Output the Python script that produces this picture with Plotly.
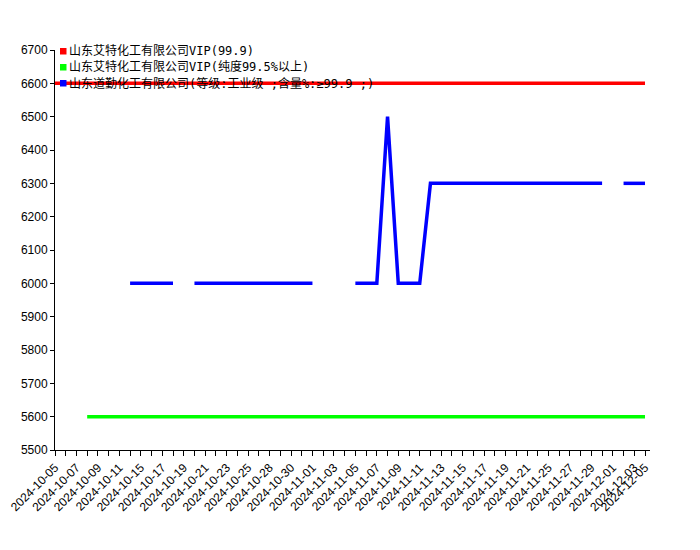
import plotly.graph_objects as go

dates = [
    "2024-10-05", "2024-10-06", "2024-10-07", "2024-10-08", "2024-10-09", "2024-10-10",
    "2024-10-11", "2024-10-14", "2024-10-15", "2024-10-16", "2024-10-17", "2024-10-18",
    "2024-10-19", "2024-10-20", "2024-10-21", "2024-10-22", "2024-10-23", "2024-10-24",
    "2024-10-25", "2024-10-27", "2024-10-28", "2024-10-29", "2024-10-30", "2024-10-31",
    "2024-11-01", "2024-11-02", "2024-11-03", "2024-11-04", "2024-11-05", "2024-11-06",
    "2024-11-07", "2024-11-08", "2024-11-09", "2024-11-10", "2024-11-11", "2024-11-12",
    "2024-11-13", "2024-11-14", "2024-11-15", "2024-11-16", "2024-11-17", "2024-11-18",
    "2024-11-19", "2024-11-20", "2024-11-21", "2024-11-22", "2024-11-25", "2024-11-26",
    "2024-11-27", "2024-11-28", "2024-11-29", "2024-11-30", "2024-12-01", "2024-12-02",
    "2024-12-03", "2024-12-05",
]

tick_labels = [
    "2024-10-05", "", "2024-10-07", "", "2024-10-09", "",
    "2024-10-11", "", "2024-10-15", "", "2024-10-17", "",
    "2024-10-19", "", "2024-10-21", "", "2024-10-23", "",
    "2024-10-25", "", "2024-10-28", "", "2024-10-30", "",
    "2024-11-01", "", "2024-11-03", "", "2024-11-05", "",
    "2024-11-07", "", "2024-11-09", "", "2024-11-11", "",
    "2024-11-13", "", "2024-11-15", "", "2024-11-17", "",
    "2024-11-19", "", "2024-11-21", "", "2024-11-25", "",
    "2024-11-27", "", "2024-11-29", "", "2024-12-01", "",
    "2024-12-03", "2024-12-05",
]

series_names = [
    "山东艾特化工有限公司VIP(99.9)",
    "山东艾特化工有限公司VIP(纯度99.5%以上)",
    "山东道勤化工有限公司(等级:工业级 ;含量%:≥99.9 ;)",
]
series_colors = ["#ff0000", "#00ff00", "#0000ff"]

vip_999 = [
    6600, 6600, 6600, 6600, 6600, 6600, 6600, 6600, 6600, 6600, 6600, 6600,
    6600, 6600, 6600, 6600, 6600, 6600, 6600, 6600, 6600, 6600, 6600, 6600,
    6600, 6600, 6600, 6600, 6600, 6600, 6600, 6600, 6600, 6600, 6600, 6600,
    6600, 6600, 6600, 6600, 6600, 6600, 6600, 6600, 6600, 6600, 6600, 6600,
    6600, 6600, 6600, 6600, 6600, 6600, 6600, 6600,
]

vip_995 = [
    None, None, None, 5600, 5600, 5600, 5600, 5600, 5600, 5600, 5600, 5600,
    5600, 5600, 5600, 5600, 5600, 5600, 5600, 5600, 5600, 5600, 5600, 5600,
    5600, 5600, 5600, 5600, 5600, 5600, 5600, 5600, 5600, 5600, 5600, 5600,
    5600, 5600, 5600, 5600, 5600, 5600, 5600, 5600, 5600, 5600, 5600, 5600,
    5600, 5600, 5600, 5600, 5600, 5600, 5600, 5600,
]

daoqin = [
    None, None, None, None, None, None, None, 6000, 6000, 6000, 6000, 6000,
    None, 6000, 6000, 6000, 6000, 6000, 6000, 6000, 6000, 6000, 6000, 6000,
    6000, None, None, None, 6000, 6000, 6000, 6500, 6000, 6000, 6000, 6300,
    6300, 6300, 6300, 6300, 6300, 6300, 6300, 6300, 6300, 6300, 6300, 6300,
    6300, 6300, 6300, 6300, None, 6300, 6300, 6300,
]

all_series = [vip_999, vip_995, daoqin]

fig = go.Figure()
for name, color, vals in zip(series_names, series_colors, all_series):
    fig.add_trace(go.Scatter(
        x=dates, y=vals, name=name, mode="lines",
        line=dict(color=color, width=3.5),
        connectgaps=False, showlegend=False,
    ))

# page body has an 8px margin; plot area target in screen pixels
OFF = 8
L, R, T, B = 55 - OFF, 650 - OFF, 50 - OFF, 450 - OFF
W, H = R - L, B - T

def px_x(p):
    return (p - OFF - L) / W

def px_y(p):
    return (B - (p - OFF)) / H

legend_rows = [51, 67, 83]
shapes = []
annotations = []
for name, color, yy in zip(series_names, series_colors, legend_rows):
    shapes.append(dict(
        type="rect", xref="paper", yref="paper",
        x0=px_x(60), x1=px_x(66.5), y0=px_y(yy + 3.5), y1=px_y(yy - 3),
        fillcolor=color, line=dict(width=0),
    ))
    annotations.append(dict(
        xref="paper", yref="paper", x=px_x(67), y=px_y(yy),
        xanchor="left", yanchor="middle", showarrow=False,
        text=name,
        font=dict(family="DejaVu Sans Mono, Noto Sans CJK SC", size=12, color="#000000"),
    ))

fig.update_layout(
    width=700, height=550,
    margin=dict(l=L, r=700 - R, t=T, b=550 - B),
    paper_bgcolor="white", plot_bgcolor="white",
    showlegend=False,
    shapes=shapes,
    annotations=annotations,
    xaxis=dict(
        type="category", automargin=False,
        range=[0, 55 * 595 / 590],
        tickmode="array", tickvals=dates, ticktext=tick_labels,
        tickangle=-45,
        ticks="outside", ticklen=5, tickcolor="#000000",
        showline=True, linecolor="#000000", linewidth=1,
        showgrid=False, zeroline=False,
        tickfont=dict(family="Liberation Sans, Arial", size=12, color="#000000"),
    ),
    yaxis=dict(
        range=[5500, 6700], dtick=100, tick0=5500, automargin=False,
        ticks="outside", ticklen=4, tickcolor="#000000",
        showline=True, linecolor="#000000", linewidth=1,
        showgrid=False, zeroline=False,
        tickfont=dict(family="Liberation Sans, Arial", size=12, color="#000000"),
    ),
)

fig.write_html("out.html")
